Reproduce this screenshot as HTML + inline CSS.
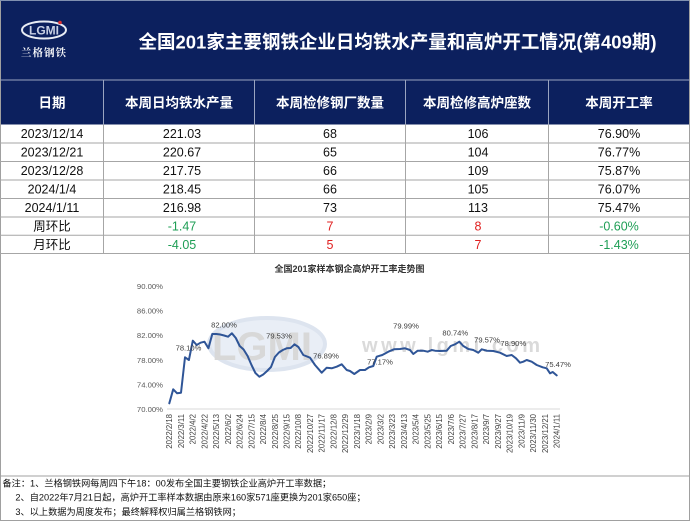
<!DOCTYPE html>
<html><head><meta charset="utf-8"><style>
html,body{margin:0;padding:0;background:#fff;}
svg{display:block;}
</style></head><body>
<svg width="692" height="523" viewBox="0 0 692 523" xmlns="http://www.w3.org/2000/svg" font-family="Liberation Sans, Noto Sans CJK SC, sans-serif">
<!-- header background -->
<rect x="0" y="0" width="690" height="124.5" fill="#0c205e"/>
<line x1="0.5" y1="0" x2="0.5" y2="521" stroke="#a0a0a0" stroke-width="1"/>
<line x1="0" y1="0.5" x2="690" y2="0.5" stroke="#8090b0" stroke-width="1"/>
<line x1="689.5" y1="0" x2="689.5" y2="521" stroke="#a0a0a0" stroke-width="1"/>
<line x1="0" y1="80" x2="690" y2="80" stroke="#9aa4c0" stroke-width="1"/>
<g stroke="#9aa4c0" stroke-width="1">
<line x1="103.5" y1="80" x2="103.5" y2="124.5"/>
<line x1="254.5" y1="80" x2="254.5" y2="124.5"/>
<line x1="405.5" y1="80" x2="405.5" y2="124.5"/>
<line x1="548.5" y1="80" x2="548.5" y2="124.5"/>
</g>
<!-- logo -->
<ellipse cx="44" cy="30" rx="22" ry="8.5" fill="none" stroke="#e8ecf4" stroke-width="2"/>
<text x="44" y="34.5" text-anchor="middle" font-size="12" font-weight="bold" fill="#c8d0e4" font-family="Liberation Sans, sans-serif">LGMI</text>
<circle cx="60" cy="22.5" r="1.8" fill="#e03030"/>
<text x="44" y="56" text-anchor="middle" font-size="10.5" font-weight="bold" fill="#ffffff" letter-spacing="1" font-family="Liberation Serif, Noto Serif CJK SC, serif">兰格钢铁</text>
<!-- title -->
<text x="397.5" y="48.7" text-anchor="middle" font-size="18.5" font-weight="bold" fill="#ffffff">全国201家主要钢铁企业日均铁水产量和高炉开工情况(第409期)</text>
<!-- header row -->
<g font-size="13.5" font-weight="bold" fill="#ffffff" text-anchor="middle">
<text x="52" y="107.4">日期</text>
<text x="179" y="107.4">本周日均铁水产量</text>
<text x="330" y="107.4">本周检修钢厂数量</text>
<text x="477" y="107.4">本周检修高炉座数</text>
<text x="619" y="107.4">本周开工率</text>
</g>
<!-- table grid -->
<g stroke="#a6a6a6" stroke-width="1">
<line x1="0" y1="143" x2="690" y2="143"/>
<line x1="0" y1="161.5" x2="690" y2="161.5"/>
<line x1="0" y1="180" x2="690" y2="180"/>
<line x1="0" y1="198.5" x2="690" y2="198.5"/>
<line x1="0" y1="217" x2="690" y2="217"/>
<line x1="0" y1="235.3" x2="690" y2="235.3"/>
<line x1="0" y1="253.5" x2="690" y2="253.5"/>
<line x1="103.5" y1="124.5" x2="103.5" y2="253.5"/>
<line x1="254.5" y1="124.5" x2="254.5" y2="253.5"/>
<line x1="405.5" y1="124.5" x2="405.5" y2="253.5"/>
<line x1="548.5" y1="124.5" x2="548.5" y2="253.5"/>
</g>
<g font-size="12.5" fill="#111" text-anchor="middle">
<text x="52" y="138.2">2023/12/14</text><text x="182" y="138.2">221.03</text><text x="330" y="138.2">68</text><text x="478" y="138.2">106</text><text x="619" y="138.2">76.90%</text>
<text x="52" y="156.7">2023/12/21</text><text x="182" y="156.7">220.67</text><text x="330" y="156.7">65</text><text x="478" y="156.7">104</text><text x="619" y="156.7">76.77%</text>
<text x="52" y="175.2">2023/12/28</text><text x="182" y="175.2">217.75</text><text x="330" y="175.2">66</text><text x="478" y="175.2">109</text><text x="619" y="175.2">75.87%</text>
<text x="52" y="193.7">2024/1/4</text><text x="182" y="193.7">218.45</text><text x="330" y="193.7">66</text><text x="478" y="193.7">105</text><text x="619" y="193.7">76.07%</text>
<text x="52" y="212.2">2024/1/11</text><text x="182" y="212.2">216.98</text><text x="330" y="212.2">73</text><text x="478" y="212.2">113</text><text x="619" y="212.2">75.47%</text>
<text x="52" y="230.6">周环比</text><text x="182" y="230.6" fill="#1e9e55">-1.47</text><text x="330" y="230.6" fill="#e02020">7</text><text x="478" y="230.6" fill="#e02020">8</text><text x="619" y="230.6" fill="#1e9e55">-0.60%</text>
<text x="52" y="248.9">月环比</text><text x="182" y="248.9" fill="#1e9e55">-4.05</text><text x="330" y="248.9" fill="#e02020">5</text><text x="478" y="248.9" fill="#e02020">7</text><text x="619" y="248.9" fill="#1e9e55">-1.43%</text>
</g>
<!-- notes area lines -->
<line x1="0" y1="476" x2="690" y2="476" stroke="#a0a0a0" stroke-width="1"/>
<line x1="0" y1="520.5" x2="690" y2="520.5" stroke="#a0a0a0" stroke-width="1"/>
<g font-size="9.2" fill="#111">
<text x="2.5" y="486.6">备注：1、兰格钢铁网每周四下午18：00发布全国主要钢铁企业高炉开工率数据；</text>
<text x="15.4" y="500.6">2、自2022年7月21日起，高炉开工率样本数据由原来160家571座更换为201家650座；</text>
<text x="15.4" y="515">3、以上数据为周度发布；最终解释权归属兰格钢铁网；</text>
</g>
<!-- chart -->
<text x="349.5" y="272.2" text-anchor="middle" font-size="9" font-weight="bold" fill="#333">全国201家样本钢企高炉开工率走势图</text>
<!-- watermark -->
<ellipse cx="267" cy="344" rx="58" ry="26" fill="#e9eef6" stroke="#dde4ef" stroke-width="4"/>
<text x="262" y="360" text-anchor="middle" font-size="40" font-weight="bold" fill="#d8d8d8" font-family="Liberation Sans, sans-serif">LGMI</text>
<text x="362" y="352" font-size="20" font-weight="bold" fill="#dadada" textLength="178" lengthAdjust="spacing" font-family="Liberation Sans, sans-serif">www.lgmi.com</text>
<!-- y labels -->
<g font-size="7.7" fill="#595959" text-anchor="end">
<text x="163" y="288.8">90.00%</text>
<text x="163" y="313.5">86.00%</text>
<text x="163" y="338.1">82.00%</text>
<text x="163" y="362.8">78.00%</text>
<text x="163" y="387.5">74.00%</text>
<text x="163" y="411.8">70.00%</text>
</g>
<!-- x axis -->
<line x1="167" y1="409" x2="560" y2="409" stroke="#d9d9d9" stroke-width="1"/>
<!-- series -->
<polyline fill="none" stroke="#2f5597" stroke-width="2" stroke-linejoin="round" stroke-linecap="round" points="169.3,403.3 173.2,389.3 177.1,393.3 181.0,392.7 185.0,357.3 188.9,360 192.8,340.7 196.7,345 200.6,342.7 204.5,341.7 208.4,348.3 212.3,334 216.3,334 220.2,334.5 224.1,335.5 228.0,336.7 231.9,333.3 235.8,338 239.7,346 243.6,349.5 247.6,356 251.5,365 255.4,373 259.3,376.7 263.2,374.5 267.1,371 271.0,367 274.9,357 278.9,352.5 282.8,350 286.7,348.3 290.6,348 294.5,344.3 298.4,347 303.3,355 310,357.7 315,365 321.7,372.7 326.7,367.7 331.7,368.3 336.7,366.7 341.7,364.3 346.7,370 350,371 354.3,374 360,370 365,370 369,367.3 373.3,366 376.7,356.7 382.3,355 388.3,351.7 394,349.3 400,349 405,348.3 410,350 413.3,354 417.7,350.7 423.3,350.7 427.7,351.7 431.7,350 435,350.7 440,351 446.7,350.7 450.7,346 455,344.3 459.3,341.7 463.3,346 468.3,349 473.3,350 478.3,352.7 481.7,349.3 486.7,350.7 493.3,351 500,352.7 506.7,356 511.7,355 516,358.3 520,362.7 523.3,361.7 526.7,360 531.7,361.7 536.7,365 542.7,367.3 546.7,368.3 550,373.3 552.7,372 556.7,375.4"/>
<!-- data labels -->
<g font-size="7.6" fill="#404040" text-anchor="middle">
<text x="188.5" y="350.7">78.10%</text>
<text x="224" y="327.7">82.00%</text>
<text x="279" y="338.7">79.53%</text>
<text x="326" y="358.7">76.89%</text>
<text x="380" y="364.4">77.17%</text>
<text x="406" y="328.4">79.99%</text>
<text x="455.3" y="335.4">80.74%</text>
<text x="487" y="342.7">79.57%</text>
<text x="513.3" y="346">78.90%</text>
<text x="558" y="367">75.47%</text>
</g>
<g font-size="7.8" fill="#404040" text-anchor="end">
<text transform="translate(172.1,414) rotate(-90)">2022/2/18</text>
<text transform="translate(183.8,414) rotate(-90)">2022/3/11</text>
<text transform="translate(195.6,414) rotate(-90)">2022/4/2</text>
<text transform="translate(207.3,414) rotate(-90)">2022/4/22</text>
<text transform="translate(219.1,414) rotate(-90)">2022/5/13</text>
<text transform="translate(230.8,414) rotate(-90)">2022/6/2</text>
<text transform="translate(242.5,414) rotate(-90)">2022/6/24</text>
<text transform="translate(254.3,414) rotate(-90)">2022/7/15</text>
<text transform="translate(266.0,414) rotate(-90)">2022/8/4</text>
<text transform="translate(277.8,414) rotate(-90)">2022/8/25</text>
<text transform="translate(289.5,414) rotate(-90)">2022/9/15</text>
<text transform="translate(301.2,414) rotate(-90)">2022/10/8</text>
<text transform="translate(313.0,414) rotate(-90)">2022/10/27</text>
<text transform="translate(324.7,414) rotate(-90)">2022/11/17</text>
<text transform="translate(336.5,414) rotate(-90)">2022/12/8</text>
<text transform="translate(348.2,414) rotate(-90)">2022/12/29</text>
<text transform="translate(359.9,414) rotate(-90)">2023/1/18</text>
<text transform="translate(371.7,414) rotate(-90)">2023/2/9</text>
<text transform="translate(383.4,414) rotate(-90)">2023/3/2</text>
<text transform="translate(395.2,414) rotate(-90)">2023/3/23</text>
<text transform="translate(406.9,414) rotate(-90)">2023/4/13</text>
<text transform="translate(418.6,414) rotate(-90)">2023/5/4</text>
<text transform="translate(430.4,414) rotate(-90)">2023/5/25</text>
<text transform="translate(442.1,414) rotate(-90)">2023/6/15</text>
<text transform="translate(453.9,414) rotate(-90)">2023/7/6</text>
<text transform="translate(465.6,414) rotate(-90)">2023/7/27</text>
<text transform="translate(477.3,414) rotate(-90)">2023/8/17</text>
<text transform="translate(489.1,414) rotate(-90)">2023/9/7</text>
<text transform="translate(500.8,414) rotate(-90)">2023/9/27</text>
<text transform="translate(512.6,414) rotate(-90)">2023/10/19</text>
<text transform="translate(524.3,414) rotate(-90)">2023/11/9</text>
<text transform="translate(536.0,414) rotate(-90)">2023/11/30</text>
<text transform="translate(547.8,414) rotate(-90)">2023/12/21</text>
<text transform="translate(559.5,414) rotate(-90)">2024/1/11</text>
</g>
</svg>
</body></html>
